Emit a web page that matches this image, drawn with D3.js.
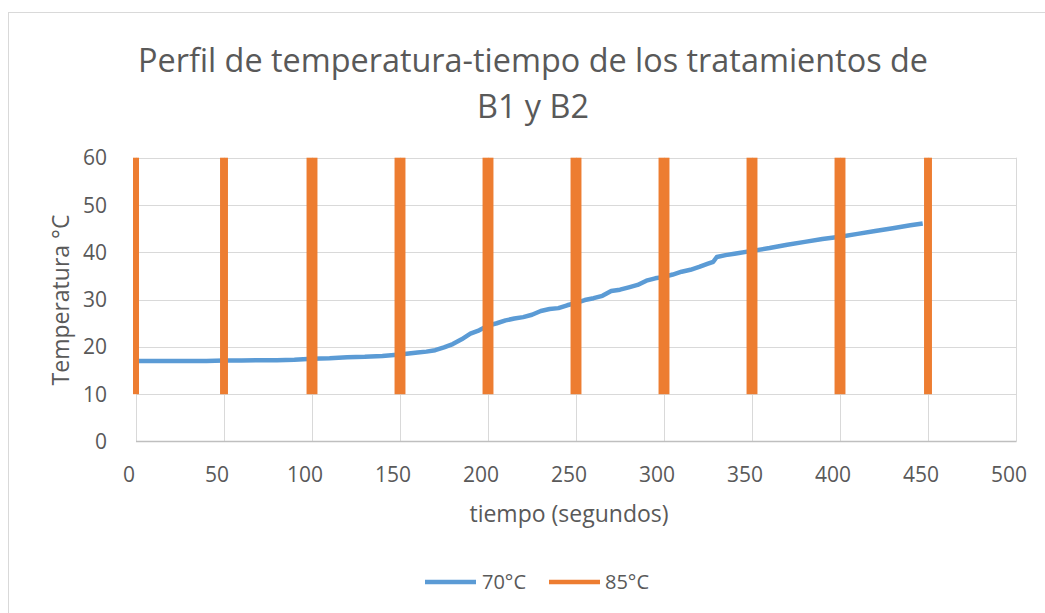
<!DOCTYPE html>
<html><head><meta charset="utf-8">
<script src="https://cdn.jsdelivr.net/npm/d3@7"></script>
<style>body{margin:0;background:#fff;} text{font-family:"Open Sans",sans-serif;fill:#595959;}</style>
</head><body>
<svg id="c" width="1045" height="613"></svg>
<script>
const titleLines = ["Perfil de temperatura-tiempo de los tratamientos de", "B1 y B2"];
const xTicks = [0,50,100,150,200,250,300,350,400,450,500];
const yTicks = [0,10,20,30,40,50,60];
const seriesNames = ["70°C","85°C"];
const t70 = [0,10,20,30,40,50,60,70,80,90,100,110,120,130,140,150,160,165,170,175,180,185,190,195,200,205,210,215,220,225,230,235,240,245,250,255,260,265,270,275,280,285,290,295,300,305,310,315,320,325,328,330,335,340,350,360,370,380,390,400,410,420,430,440,447];
const v70 = [17.0,17.0,17.0,17.0,17.0,17.1,17.1,17.2,17.2,17.3,17.5,17.6,17.8,17.9,18.1,18.4,18.8,19.0,19.3,19.9,20.6,21.6,22.8,23.5,24.5,25.0,25.6,26.0,26.3,26.8,27.6,28.0,28.2,28.8,29.3,29.9,30.3,30.8,31.8,32.1,32.6,33.1,34.0,34.5,34.8,35.3,35.9,36.3,36.9,37.6,38.0,39.0,39.4,39.7,40.3,40.9,41.6,42.2,42.8,43.3,43.9,44.5,45.1,45.7,46.1];
const t85 = [0,50,100,150,200,250,300,350,400,450];
const span85 = [3.4,4.5,6.2,6.2,6.2,6.2,6.2,6.2,6.2,4.5];
const low85 = [10,10,10,10,10,10,10,10,10,10];
const high85 = [60,60,60,60,60,60,60,60,60,60];

const svg = d3.select("#c");
const blue = "#5B9BD5", orange = "#ED7D31";
svg.append("rect").attr("x",8.5).attr("y",12.5).attr("width",1045).attr("height",613)
  .attr("fill","#fff").attr("stroke","#d9d9d9");

const x = d3.scaleLinear().domain([0,500]).range([136,1016]);
const y = d3.scaleLinear().domain([0,60]).range([441.5,157.7]);

// gridlines
svg.append("g").selectAll("line").data(yTicks.filter(d=>d>0)).join("line")
  .attr("x1",x(0)).attr("x2",x(500)).attr("y1",d=>Math.round(y(d))+0.5).attr("y2",d=>Math.round(y(d))+0.5)
  .attr("stroke","#d9d9d9").attr("stroke-width",1);
svg.append("g").selectAll("line").data(xTicks).join("line")
  .attr("x1",d=>Math.round(x(d))+0.5).attr("x2",d=>Math.round(x(d))+0.5).attr("y1",y(0)).attr("y2",y(60))
  .attr("stroke","#d9d9d9").attr("stroke-width",1);
// x axis line
svg.append("line").attr("x1",x(0)).attr("x2",x(500)+0.5).attr("y1",441.5).attr("y2",441.5)
  .attr("stroke","#bfbfbf").attr("stroke-width",1.3);

// tick labels
svg.append("g").selectAll("text").data(yTicks).join("text")
  .attr("x",107).attr("y",d=>y(d)+7.5).attr("text-anchor","end").attr("font-size",21).text(d=>d);
svg.append("g").selectAll("text").data(xTicks).join("text")
  .attr("x",d=>x(d)-7).attr("y",482).attr("text-anchor","middle").attr("font-size",21).text(d=>d);

// axis titles
svg.append("text").attr("x",569).attr("y",522).attr("text-anchor","middle").attr("font-size",23).text("tiempo (segundos)");
svg.append("text").attr("transform","translate(69,300) rotate(-90)").attr("text-anchor","middle").attr("font-size",23).text("Temperatura °C");

// title
svg.append("g").selectAll("text").data(titleLines).join("text")
  .attr("x",533).attr("y",(d,i)=>72+i*45.5).attr("text-anchor","middle").attr("font-size",32.4).text(d=>d);

// 70 line
const pts = t70.map((t,i)=>[t,v70[i]]);
svg.append("path").datum(pts).attr("fill","none").attr("stroke",blue).attr("stroke-width",4.5)
  .attr("stroke-linejoin","round")
  .attr("d", d3.line().x(d=>x(d[0])).y(d=>y(d[1])));

// 85 bars
svg.append("g").selectAll("rect").data(t85).join("rect")
  .attr("x",(d,i)=>x(d-span85[i]/2)).attr("width",(d,i)=>x(d+span85[i]/2)-x(d-span85[i]/2))
  .attr("y",(d,i)=>y(high85[i])).attr("height",(d,i)=>y(low85[i])-y(high85[i]))
  .attr("fill",orange);

// legend
const lg = [{n:seriesNames[0],c:blue,x1:425,x2:476,tx:482},{n:seriesNames[1],c:orange,x1:549,x2:600,tx:605}];
const g = svg.append("g");
g.selectAll("line").data(lg).join("line").attr("x1",d=>d.x1).attr("x2",d=>d.x2).attr("y1",582).attr("y2",582)
  .attr("stroke",d=>d.c).attr("stroke-width",4.5);
g.selectAll("text").data(lg).join("text").attr("x",d=>d.tx).attr("y",589).attr("font-size",20).text(d=>d.n);
</script>
</body></html>
